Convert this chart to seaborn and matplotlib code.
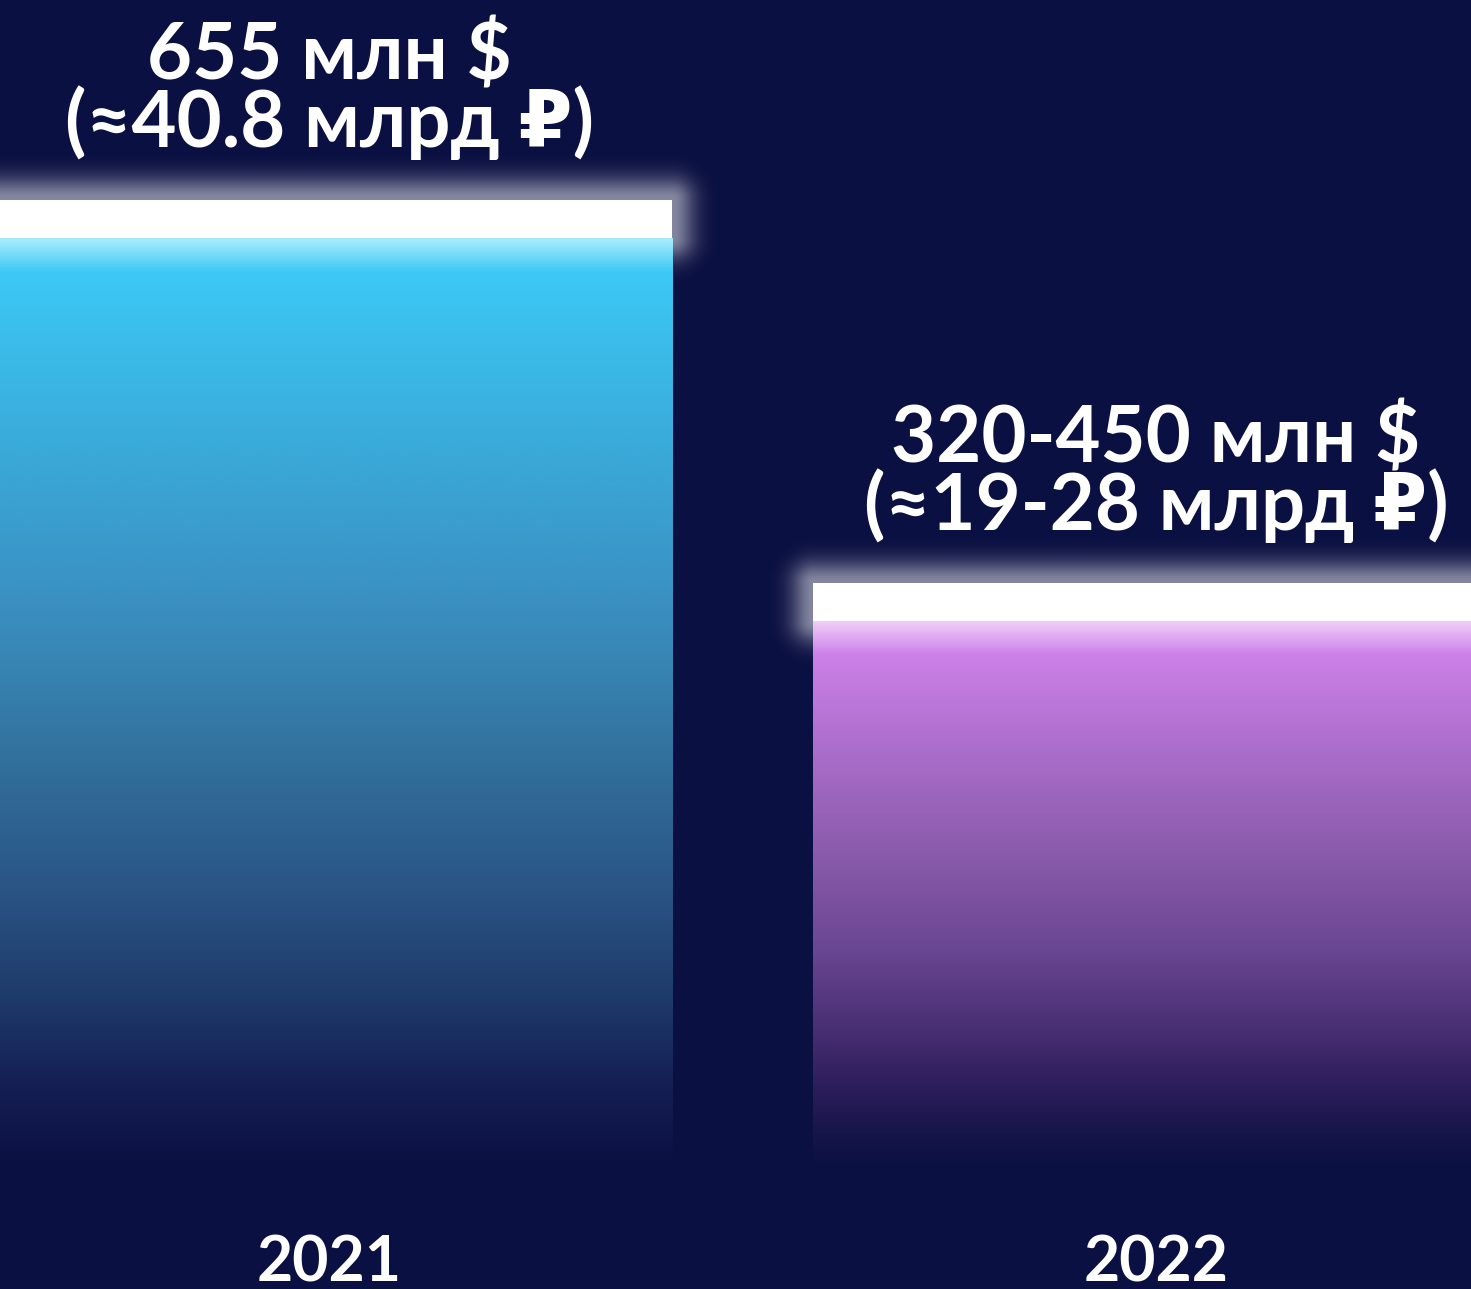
import matplotlib.pyplot as plt
import matplotlib.colors as mcolors
import numpy as np
import seaborn as sns
import pandas as pd

# data
years = ['2021', '2022']
values = [655, 385]          # млн $ (2022 = middle of the 320-450 range)
labels = ['655 млн $\n(≈40.8 млрд ₽)', '320-450 млн $\n(≈19-28 млрд ₽)']

bg = '#0b1042'
top_colors = ['#3cc8f5', '#cc80e8']
stops = [
    [(0.0, '#a6ebfc'), (0.035, '#3cc8f5'), (0.2, '#3aaedd'), (0.4, '#3a8fc0'),
     (0.55, '#33739f'), (0.7, '#2a5585'), (0.82, '#1e3a6a'), (0.92, '#141d52'), (1.0, bg)],
    [(0.0, '#efcdf8'), (0.06, '#cc80e8'), (0.25, '#a86cc8'), (0.45, '#8658a8'),
     (0.6, '#6a4792'), (0.72, '#4f3379'), (0.85, '#2e1e5c'), (0.95, '#141448'), (1.0, bg)],
]

sns.set_theme(style='white')
plt.rcParams['font.family'] = ['Lato', 'DejaVu Sans']

df = pd.DataFrame({'year': years, 'value': values})

fig = plt.figure(figsize=(14.71, 12.89), dpi=100, facecolor=bg)
ax = fig.add_axes([0, 0, 1, 1])
ax.set_facecolor(bg)

sns.barplot(data=df, x='year', y='value', hue='year', palette=top_colors,
            width=0.83, legend=False, ax=ax, zorder=2)

ax.set_xlim(-0.398, 1.381)
ax.set_ylim(-86, 823)
for s in ax.spines.values():
    s.set_visible(False)
ax.set_xticks([])
ax.set_yticks([])
ax.set_xlabel('')
ax.set_ylabel('')

# pixels per data unit
fig.canvas.draw()
px_y = ax.transData.transform((0, 1))[1] - ax.transData.transform((0, 0))[1]
px_x = ax.transData.transform((1, 0))[0] - ax.transData.transform((0, 0))[0]
cap_h = 38 / px_y

for i, p in enumerate(ax.patches):
    x0, w = p.get_x(), p.get_width()
    y1 = p.get_height()
    cmap = mcolors.LinearSegmentedColormap.from_list('g%d' % i, stops[i])
    grad = np.linspace(0, 1, 512).reshape(-1, 1)
    im = ax.imshow(grad, cmap=cmap, aspect='auto', extent=(x0, x0 + w, 0, y1),
                   origin='upper', zorder=2, interpolation='bicubic')
    im.set_clip_path(p)
    p.set_facecolor('none')
    p.set_edgecolor('none')

    # glow around the white cap
    gx = np.linspace(x0 - 80 / px_x, x0 + w + 80 / px_x, 400)
    gy = np.linspace(y1 - 80 / px_y, y1 + cap_h + 80 / px_y, 200)
    X, Y = np.meshgrid(gx, gy)
    dx = np.maximum(np.maximum(x0 - X, X - (x0 + w)), 0) * px_x
    dy = np.maximum(np.maximum(y1 - Y, Y - (y1 + cap_h)), 0) * px_y
    d = np.hypot(dx, dy)
    alpha = 0.5 * np.exp(-(d / 22.0) ** 2)
    rgba = np.ones(X.shape + (4,))
    rgba[..., 3] = alpha
    ax.imshow(rgba, extent=(gx[0], gx[-1], gy[0], gy[-1]), origin='lower',
              aspect='auto', zorder=1.5, interpolation='bilinear')

    ax.add_patch(plt.Rectangle((x0, y1), w, cap_h, facecolor='white',
                               edgecolor='none', zorder=3))

    ax.annotate(labels[i], xy=(x0 + w / 2, y1 + cap_h), xytext=(0, 28),
                textcoords='offset points', ha='center', va='bottom',
                fontsize=56, fontweight='bold', color='white',
                linespacing=0.88, zorder=4)

    ax.text(x0 + w / 2, -80.5, years[i], ha='center', va='baseline',
            fontsize=45, fontweight='bold', color='white', zorder=4)

fig.savefig('out.png', dpi=100, facecolor=bg)
